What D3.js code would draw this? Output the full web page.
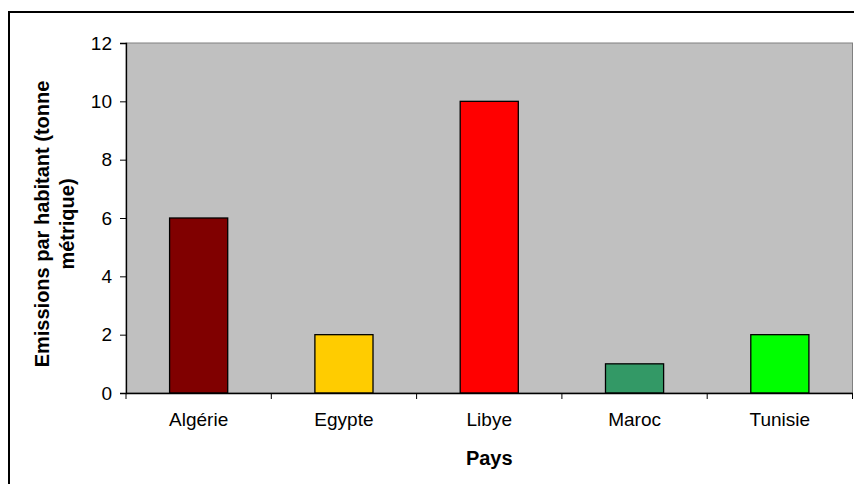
<!DOCTYPE html>
<html><head><meta charset="utf-8">
<script src="https://cdn.jsdelivr.net/npm/d3@7"></script>
<style>body{margin:0;background:#fff}svg{display:block}text{font-family:"Liberation Sans",Arial,sans-serif;fill:#000}</style>
</head><body>
<script>
const categories = ["Algérie","Egypte","Libye","Maroc","Tunisie"];
const values = [6,2,10,1,2];
const colors = ["#800000","#FFCC00","#FF0000","#339966","#00FF00"];
const yTicks = [0,2,4,6,8,10,12];

const W=854,H=484;
const svg=d3.select("body").append("svg").attr("width",W).attr("height",H);
svg.append("rect").attr("x",9).attr("y",12).attr("width",W).attr("height",H).attr("fill","#fff").attr("stroke","#000").attr("stroke-width",2);

const L=126,R=852.5,T=43,B=393;
const x=d3.scaleBand().domain(categories).range([L,R]).paddingInner(0).paddingOuter(0);
const y=d3.scaleLinear().domain([0,12]).range([B,T]);

svg.append("rect").attr("x",L).attr("y",T).attr("width",R-L).attr("height",B-T).attr("fill","#C0C0C0").attr("stroke","#808080").attr("stroke-width",1);

const bw=x.bandwidth()*0.4;
svg.selectAll(".bar").data(categories).enter().append("rect")
 .attr("x",d=>x(d)+x.bandwidth()/2-bw/2).attr("width",bw)
 .attr("y",(d,i)=>y(values[i])).attr("height",(d,i)=>B-y(values[i]))
 .attr("fill",(d,i)=>colors[i]).attr("stroke","#000").attr("stroke-width",1.3);

const ya=svg.append("g").attr("transform",`translate(${L},0)`)
 .call(d3.axisLeft(y).tickValues(yTicks).tickSize(6).tickPadding(8).tickFormat(d3.format("d")));
ya.select(".domain").attr("stroke","#000").attr("stroke-width",1.3);
ya.selectAll("line").attr("stroke","#000");
ya.selectAll("text").attr("font-size",19).attr("font-family","Liberation Sans, Arial, sans-serif");

const xa=svg.append("g").attr("transform",`translate(0,${B})`)
 .call(d3.axisBottom(x).tickSize(0).tickPadding(20));
xa.select(".domain").attr("stroke","#000").attr("stroke-width",1.3);
xa.selectAll("text").attr("font-size",19).attr("font-family","Liberation Sans, Arial, sans-serif").attr("dy","0.68em");
const bounds=categories.map(c=>x(c)).concat([R]);
svg.selectAll(".xt").data(bounds).enter().append("line")
 .attr("x1",d=>d).attr("x2",d=>d).attr("y1",B).attr("y2",B+6).attr("stroke","#000");

svg.append("text").attr("x",(L+R)/2).attr("y",465).attr("text-anchor","middle")
 .attr("font-weight","bold").attr("font-size",20).text("Pays");

const yt=svg.append("text").attr("transform","translate(49,224) rotate(-90)").attr("text-anchor","middle")
 .attr("font-weight","bold").attr("font-size",20);
yt.append("tspan").attr("x",0).attr("y",0).text("Emissions par habitant (tonne");
yt.append("tspan").attr("x",0).attr("y",25).text("métrique)");
</script>
</body></html>
